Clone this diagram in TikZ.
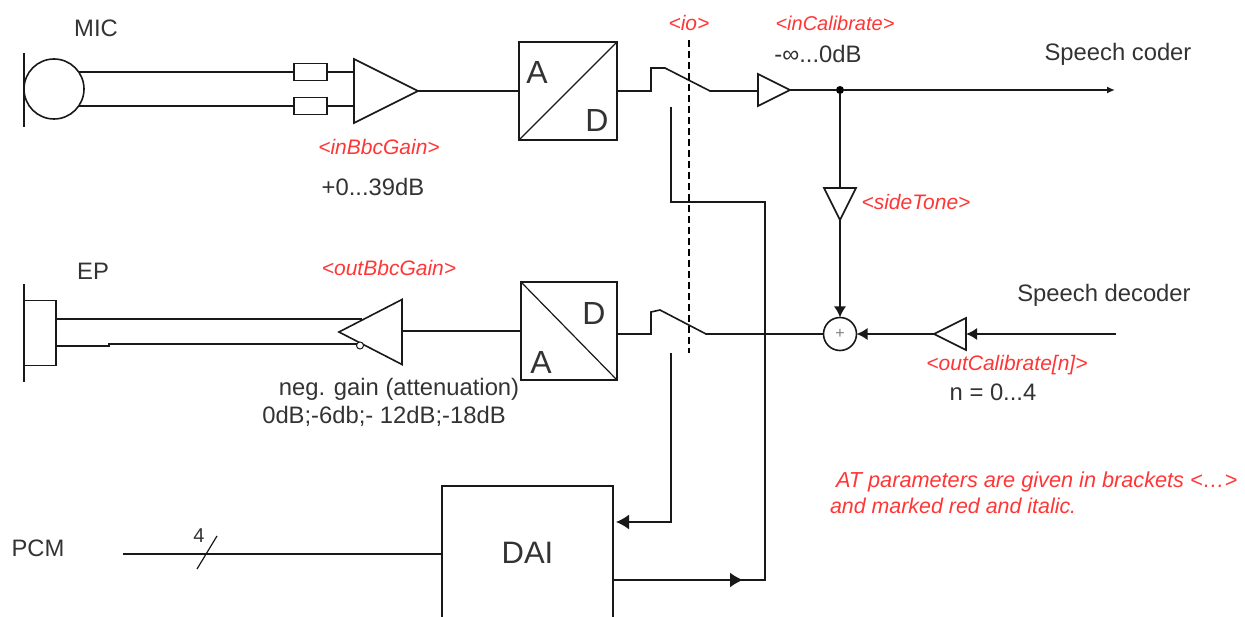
\documentclass[tikz,border=0pt]{standalone}
\usepackage{fontspec}
\setmainfont{Liberation Sans}
\usetikzlibrary{arrows.meta,positioning,shapes.geometric,calc}
\definecolor{atred}{HTML}{FF3636}
\definecolor{lbltext}{HTML}{333333}

\begin{document}
\begin{tikzpicture}[
    x=1pt, y=-1pt,
    every node/.style={outer sep=0pt},
    wire/.style={line width=1.6pt, draw=black!90},
    box/.style={wire, draw, inner sep=0pt, minimum width=98pt, minimum height=98pt},
    res/.style={wire, draw, inner sep=0pt, minimum width=33pt, minimum height=17pt},
    amp/.style={wire, draw, isosceles triangle, isosceles triangle stretches, inner sep=0pt},
    arrow/.style={wire, -{Latex[length=11pt,width=12pt]}},
    lbl/.style={font=\fontsize{23.8}{28}\selectfont, text=lbltext, inner sep=0pt},
    atlbl/.style={font=\fontsize{21}{25}\selectfont\itshape, text=atred, inner sep=0pt},
    big/.style={font=\fontsize{32}{36}\selectfont, text=lbltext, inner sep=0pt},
  ]
  \useasboundingbox (0,0) rectangle (1245,617);

  % Microphone branch
  \node[lbl] (miclbl) at (96,28) {MIC};
  \node[wire, draw, circle, inner sep=0pt, minimum size=60pt] (mic) at (54,89) {};
  \coordinate (mictop) at (24,53);
  \coordinate (micbot) at (24,127);
  \draw[wire] (mictop) -- (micbot);
  \node[res] (rtop) at (310.5,72) {};
  \node[res] (rbot) at (310.5,106) {};
  \node[amp, minimum height=64pt, minimum width=64pt, anchor=apex] (ingain) at (418,91) {};
  \draw[wire] (rtop.west -| mic.34) -- (rtop.west);
  \draw[wire] (rbot.west -| mic.-34) -- (rbot.west);
  \draw[wire] (rtop.east) -- (rtop.east -| ingain.lower side);
  \draw[wire] (rbot.east) -- (rbot.east -| ingain.lower side);
  \node[atlbl] (inbbc) at (379,147) {<inBbcGain>};
  \node[lbl] (inbbcval) at (373,187) {+0...39dB};

  % Converter and switch, upper row
  \node[box] (adin) at (568,91) {};
  \draw[wire, line width=1.2pt] (adin.south west) -- (adin.north east);
  \node[big] (adina) at (537,72) {A};
  \node[big] (adind) at (597,120) {D};
  \draw[wire] (ingain.apex) -- (adin.west);
  \coordinate (swinstep) at (651,68);
  \coordinate (swintop) at (665,68);
  \coordinate (swinend) at (710,91);
  \node[amp, minimum height=32pt, minimum width=32pt, anchor=apex] (incal) at (790,90) {};
  \draw[wire] (adin.east) -- (adin.east -| swinstep) -- (swinstep) -- (swintop) -- (swinend) -- (swinend -| incal.lower side);
  \node[circle, fill=black, inner sep=0pt, minimum size=8pt] (junction) at (840,90) {};
  \draw[wire] (incal.apex) -- (junction);
  \coordinate (coderout) at (1115,90);
  \draw[wire, -{Latex[length=8pt,width=7pt]}] (junction) -- (coderout);
  \node[lbl] (coderlbl) at (1118,54) {Speech coder};
  \node[atlbl, font=\fontsize{20}{24}\selectfont\itshape] (incallbl) at (835,23) {<inCalibrate>};
  \node[lbl] (incalval) at (818,54) {-∞...0dB};

  % IO separation
  \node[atlbl] (iolbl) at (689,23) {<io>};
  \coordinate (iotop) at (689,40);
  \coordinate (iobot) at (689,353);
  \draw[line width=1.2pt, dash pattern=on 7pt off 4pt] (iotop) -- (iobot);

  % Sidetone and summing point
  \node[amp, shape border rotate=-90, minimum height=32pt, minimum width=32pt, anchor=apex] (side) at (840,220) {};
  \node[wire, draw, circle, inner sep=0pt, minimum size=33pt] (sum) at (840,334) {};
  \node[font=\fontsize{16}{16}\selectfont, text=black!50, inner sep=0pt] (sumplus) at (sum) {+};
  \draw[wire] (junction) -- (side.lower side);
  \draw[arrow] (side.apex) -- (sum.north);
  \node[atlbl] (sidelbl) at (916,202) {<sideTone>};

  % Decoder branch
  \node[lbl] (decoderlbl) at (1104,295) {Speech decoder};
  \coordinate (decoderin) at (1116,334);
  \node[amp, shape border rotate=180, minimum height=32pt, minimum width=32pt, anchor=apex] (outcal) at (934,334) {};
  \draw[arrow] (decoderin) -- (outcal.lower side);
  \draw[arrow] (outcal.apex) -- (sum.east);
  \node[atlbl] (outcallbl) at (1007,365) {<outCalibrate[n]>};
  \node[lbl] (outcalval) at (993,392) {n = 0...4};

  % Converter and switch, lower row
  \node[box, minimum width=96pt] (adout) at (569,331) {};
  \draw[wire, line width=1.2pt] (adout.north west) -- (adout.south east);
  \node[big] (adouta) at (541,362) {A};
  \node[big] (adoutd) at (594,313) {D};
  \coordinate (swoutend) at (706,334);
  \coordinate (swouttop) at (660,310);
  \coordinate (swoutstep) at (651,312);
  \draw[wire] (sum.west) -- (swoutend) -- (swouttop) -- (swoutstep) -- (swoutstep |- sum) -- (adout.east |- sum);

  % Earpiece branch
  \node[lbl] (eplbl) at (93,271) {EP};
  \node[wire, draw, inner sep=0pt, minimum width=32pt, minimum height=65pt] (ep) at (40,333) {};
  \coordinate (eptop) at (24,284);
  \coordinate (epbot) at (24,382);
  \draw[wire] (eptop) -- (epbot);
  \node[amp, shape border rotate=180, minimum height=63pt, minimum width=65pt, anchor=apex] (outgain) at (339,332) {};
  \draw[wire] (adout.west) -- (adout.west -| outgain.lower side);
  \coordinate (epup) at (362,319);
  \coordinate (eplowa) at (109,346);
  \coordinate (eplowb) at (109,344);
  \coordinate (eplowc) at (358,344);
  \draw[wire] (ep.east |- epup) -- (epup);
  \draw[wire] (ep.east |- eplowa) -- (eplowa) -- (eplowb) -- (eplowc);
  \node[wire, draw, line width=1pt, fill=white, circle, inner sep=0pt, minimum size=7pt] (bubble) at (360,345.5) {};
  \node[atlbl] (outbbc) at (389,268) {<outBbcGain>};
  \node[lbl] (outbbcneg) at (399,389) {neg. gain (attenuation)};
  \node[lbl] (outbbcval) at (384,416) {0dB;-6db;- 12dB;-18dB};

  % DAI and PCM
  \node[wire, draw, inner sep=0pt, minimum width=171pt, minimum height=134pt, font=\fontsize{31}{34}\selectfont, text=lbltext] (dai) at (527.5,553) {DAI};
  \node[lbl] (pcmlbl) at (38,548) {PCM};
  \coordinate (pcmin) at (123,554);
  \draw[wire] (pcmin) -- (pcmin -| dai.west);
  \coordinate (slasha) at (197,569);
  \coordinate (slashb) at (217,536);
  \draw[wire, line width=1.2pt] (slasha) -- (slashb);
  \node[lbl, font=\fontsize{20}{22}\selectfont] (pcmbits) at (199,536) {4};

  % Paths to and from DAI
  \coordinate (rxstart) at (671,353);
  \coordinate (rxbend) at (671,522);
  \coordinate (rxend) at (616,522);
  \draw[wire, -{Latex[length=13pt,width=15pt]}] (rxstart) -- (rxbend) -- (rxend);
  \coordinate (txstart) at (671,107);
  \coordinate (txbenda) at (671,202);
  \coordinate (txbendb) at (765,202);
  \coordinate (txbendc) at (765,580);
  \coordinate (txtip) at (743,580);
  \draw[wire] (txstart) -- (txbenda) -- (txbendb) -- (txbendc) -- (dai.east |- txbendc);
  \draw[arrow, -{Latex[length=13pt,width=15pt]}] (dai.east |- txtip) -- (txtip);

  % Note
  \node[atlbl, anchor=west, font=\fontsize{21.7}{26}\selectfont\itshape] (notea) at (836,482) {AT parameters are given in brackets <…>};
  \node[atlbl, anchor=west, font=\fontsize{21.4}{26}\selectfont\itshape] (noteb) at (830,506) {and marked red and italic.};
\end{tikzpicture}
\end{document}
